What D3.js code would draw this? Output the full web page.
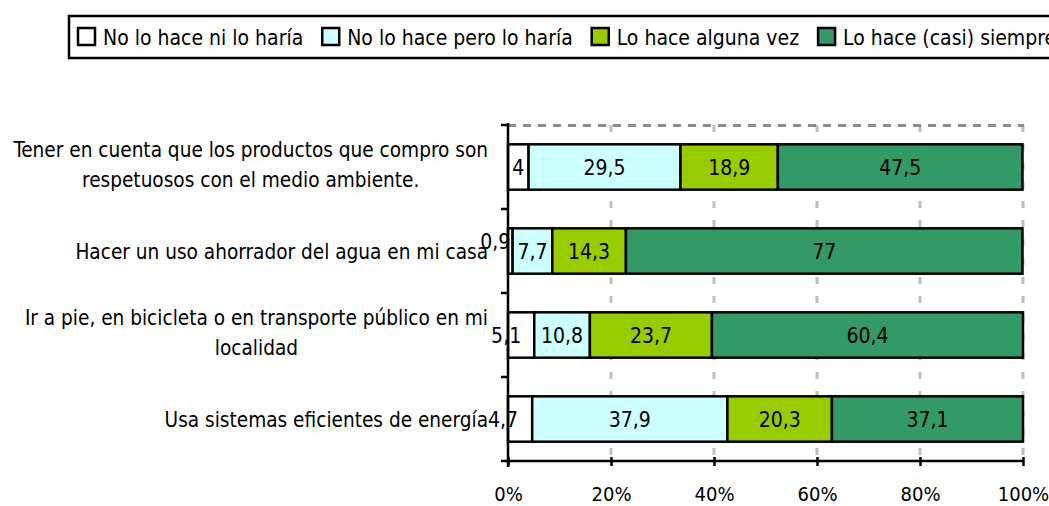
<!DOCTYPE html>
<html>
<head>
<meta charset="utf-8">
<script src="https://cdn.jsdelivr.net/npm/d3@7"></script>
<style>
  body { margin: 0; background: #fff; }
  svg text { font-family: "Liberation Sans Narrow", "DejaVu Sans Condensed", sans-serif; fill: #000; }
</style>
</head>
<body>
<svg id="chart" width="1049" height="506"></svg>
<script>
// categories (top to bottom), each one a list of lines
const categories = [
  ["Tener en cuenta que los productos que compro son", "respetuosos con el medio ambiente."],
  ["Hacer un uso ahorrador del agua en mi casa"],
  ["Ir a pie, en bicicleta o en transporte público en mi", "localidad"],
  ["Usa sistemas eficientes de energía"],
];
const seriesNames = [
  "No lo hace ni lo haría",
  "No lo hace pero lo haría",
  "Lo hace alguna vez",
  "Lo hace (casi) siempre",
];
const noLoHaceNiLoHaria = [4, 0.9, 5.1, 4.7];
const noLoHacePeroLoHaria = [29.5, 7.7, 10.8, 37.9];
const loHaceAlgunaVez = [18.9, 14.3, 23.7, 20.3];
const loHaceSiempre = [47.5, 77, 60.4, 37.1];
const xTicks = [0, 20, 40, 60, 80, 100];

const colors = ["#ffffff", "#ccffff", "#99cc00", "#339966"];
const fmt = (v) => String(v).replace(".", ",");

const svg = d3.select("#chart");
const m = { top: 125, left: 508, width: 515, height: 336 };

const series = [noLoHaceNiLoHaria, noLoHacePeroLoHaria, loHaceAlgunaVez, loHaceSiempre];
const rows = categories.map((c, i) => {
  let acc = 0;
  return {
    idx: i,
    lines: c,
    segs: series.map((s, k) => {
      const d = { k, v: s[i], x0: acc, x1: acc + s[i] };
      acc += s[i];
      return d;
    }),
  };
});

const x = d3.scaleLinear().domain([0, 100]).range([0, m.width]);
const y = d3.scaleBand().domain(d3.range(categories.length)).range([0, m.height]).paddingInner(0.46).paddingOuter(0.23);
const yb = d3.scaleBand().domain(d3.range(categories.length)).range([0, m.height]);

const g = svg.append("g").attr("transform", `translate(${m.left},${m.top})`);

// grid lines
g.append("g")
  .selectAll("line")
  .data(xTicks.slice(1))
  .join("line")
  .attr("x1", (d) => x(d)).attr("x2", (d) => x(d))
  .attr("y1", 0).attr("y2", m.height)
  .attr("stroke", "#bfbfbf").attr("stroke-width", 3).attr("stroke-dasharray", "7,12").attr("stroke-dashoffset", 0);
// plot area top border
g.append("path")
  .attr("d", `M0,0.5H${m.width + 1}`)
  .attr("fill", "none").attr("stroke", "#8c8c8c").attr("stroke-width", 3).attr("stroke-dasharray", "8,7");

// bars
const rowG = g.selectAll("g.row").data(rows).join("g").attr("class", "row")
  .attr("transform", (d) => `translate(0,${y(d.idx)})`);
rowG.selectAll("rect")
  .data((d) => d.segs)
  .join("rect")
  .attr("x", (d) => x(d.x0))
  .attr("width", (d) => x(d.x1) - x(d.x0))
  .attr("height", y.bandwidth())
  .attr("fill", (d) => colors[d.k])
  .attr("stroke", "#000").attr("stroke-width", 2.5);

// value labels; tiny segments get nudged to the left like the original
const nudge = { "1-0": [-15, -10], "2-0": [-15, 0], "3-0": [-17, 0] };
rowG.selectAll("text")
  .data((d) => d.segs.map((s) => ({ ...s, row: d.idx })))
  .join("text")
  .attr("x", (d) => (x(d.x0) + x(d.x1)) / 2 + (nudge[d.row + "-" + d.k] || [0, 0])[0])
  .attr("y", (d) => y.bandwidth() / 2 + 8 + (nudge[d.row + "-" + d.k] || [0, 0])[1])
  .attr("text-anchor", "middle")
  .style("font-size", "21px")
  .text((d) => fmt(d.v));

// axes
const xAxis = g.append("g").attr("transform", `translate(0,${m.height})`)
  .call(d3.axisBottom(x).tickValues(xTicks).tickFormat((d) => d + "%").tickSize(5).tickSizeOuter(0));
xAxis.select(".domain").attr("stroke-width", 2.5).attr("d", `M0,0H${m.width}`);
xAxis.selectAll(".tick line").attr("stroke-width", 2.5).attr("y1", -4).attr("y2", 5);
xAxis.selectAll(".tick text").attr("y", 40).attr("dy", null).style("font-size", "20px").style("font-family", null);

const yAxis = g.append("g");
yAxis.append("line").attr("x1", 0).attr("x2", 0).attr("y1", -2).attr("y2", m.height + 6)
  .attr("stroke", "#000").attr("stroke-width", 2.5);
yAxis.selectAll("line.tk")
  .data(d3.range(categories.length + 1))
  .join("line").attr("class", "tk")
  .attr("x1", -7).attr("x2", 0)
  .attr("y1", (d) => d * yb.step()).attr("y2", (d) => d * yb.step())
  .attr("stroke", "#000").attr("stroke-width", 2.5);

// category labels: block right aligned, lines centred inside the block
const labelRight = m.left - 20;
rows.forEach((r) => {
  const cy = m.top + y(r.idx) + y.bandwidth() / 2;
  const lh = 30;
  const t = svg.append("g");
  const texts = r.lines.map((ln, i) =>
    t.append("text")
      .attr("y", cy + 8 + (i - (r.lines.length - 1) / 2) * lh - (r.lines.length > 1 ? 3 : 0))
      .style("font-size", "20.6px")
      .text(ln)
  );
  const wMax = d3.max(texts, (s) => s.node().getComputedTextLength());
  texts.forEach((s) => s.attr("x", labelRight - wMax / 2).attr("text-anchor", "middle"));
});

// legend
const lg = svg.append("g");
lg.append("rect").attr("x", 69).attr("y", 16).attr("width", 1000).attr("height", 42)
  .attr("fill", "#fff").attr("stroke", "#000").attr("stroke-width", 2.5);
let lx = 78;
seriesNames.forEach((n, k) => {
  lg.append("rect").attr("x", lx).attr("y", 28).attr("width", 17).attr("height", 17)
    .attr("fill", colors[k]).attr("stroke", "#000").attr("stroke-width", 2.5);
  const t = lg.append("text").attr("x", lx + 25).attr("y", 45).style("font-size", "21px").text(n);
  lx += 25 + t.node().getComputedTextLength() + 19;
});
</script>
</body>
</html>
